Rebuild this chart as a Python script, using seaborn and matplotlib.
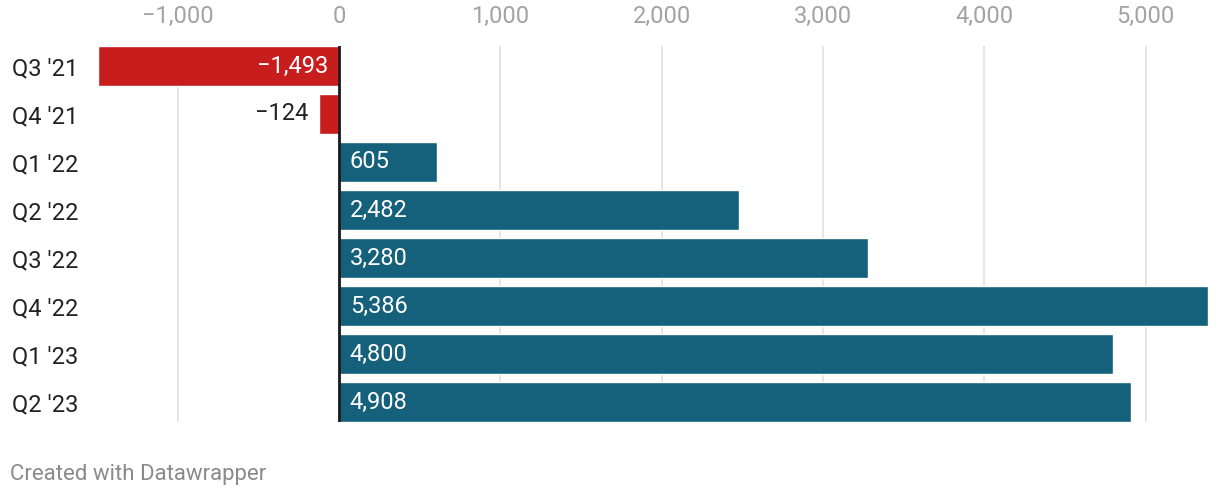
import matplotlib
matplotlib.use("Agg")
import matplotlib.pyplot as plt
import matplotlib.ticker as mticker
import seaborn as sns

# Datos
trimestres = ["Q3 '21", "Q4 '21", "Q1 '22", "Q2 '22", "Q3 '22", "Q4 '22", "Q1 '23", "Q2 '23"]
valores = [-1493, -124, 605, 2482, 3280, 5386, 4800, 4908]
ticks_x = [-1000, 0, 1000, 2000, 3000, 4000, 5000]

rojo = "#c71e1d"
azul = "#15607a"
colores = [rojo if v < 0 else azul for v in valores]

sns.set_theme(style="white")
plt.rcParams["font.family"] = ["Roboto", "DejaVu Sans"]

fig = plt.figure(figsize=(12.2, 4.98), dpi=100)
ax = fig.add_axes([98 / 1220, 1 - 422 / 498, (1208 - 98) / 1220, (422 - 46) / 498])

sns.barplot(x=valores, y=trimestres, hue=trimestres, palette=colores, orient="h",
            width=0.833, legend=False, ax=ax, saturation=1)

ax.set_xlim(min(valores), max(valores))
ax.set_ylim(7.4165, -0.4165)

# Rejilla vertical y eje cero
ax.set_xticks(ticks_x)
ax.xaxis.set_major_formatter(mticker.FuncFormatter(lambda v, p: f"{v:,.0f}".replace("-", "\u2212")))
ax.grid(axis="x", color="#e3e3e3", linewidth=1.3)
ax.set_axisbelow(True)
ax.axvline(0, color="#1a1a1a", linewidth=2, zorder=5)
for s in ax.spines.values():
    s.set_visible(False)

ax.xaxis.tick_top()
ax.tick_params(axis="x", length=0, pad=13, labelsize=17, labelcolor="#a3a3a3")
ax.tick_params(axis="y", length=0, pad=62, labelsize=17, labelcolor="#222222")
for lbl in ax.get_yticklabels():
    lbl.set_horizontalalignment("left")
ax.set_xlabel("")
ax.set_ylabel("")

# Etiquetas de valores
escala = (1208 - 98) / (max(valores) - min(valores))
off = 11 / escala
for i, v in enumerate(valores):
    txt = f"{v:,}".replace("-", "\u2212")
    if v >= 0:
        ax.text(off, i, txt, color="white", ha="left", va="center", fontsize=17, zorder=6)
    elif abs(v) * escala > 100:
        ax.text(v + abs(v) - off, i, txt, color="white", ha="right", va="center", fontsize=17, zorder=6)
    else:
        ax.text(v - off, i, txt, color="#222222", ha="right", va="center", fontsize=17, zorder=6)

fig.text(10 / 1220, 1 - 474 / 498, "Created with Datawrapper", color="#8a8a8a",
         fontsize=16, ha="left", va="center")

fig.savefig("out.png", dpi=100, facecolor="white")
